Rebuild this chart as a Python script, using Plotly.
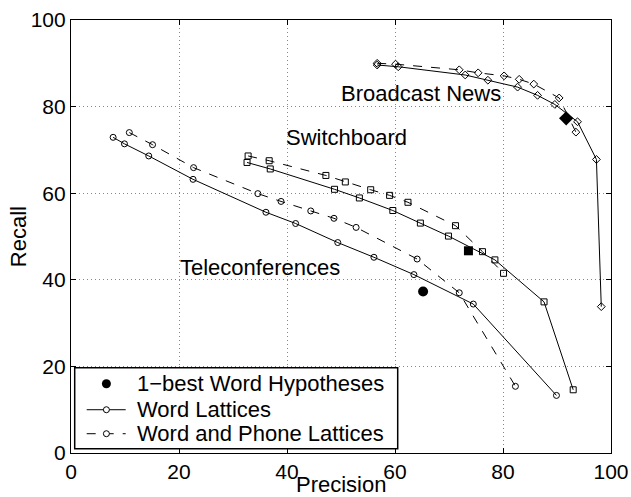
import plotly.graph_objects as go

# Broadcast News
bn_word_p = [56.7, 60.6, 73.0, 77.2, 82.7, 86.4, 89.6, 93.8, 97.3, 98.2]
bn_word_r = [89.6, 89.2, 87.3, 86.1, 84.5, 82.6, 80.5, 76.5, 67.8, 33.8]
bn_wp_p = [56.7, 60.1, 71.9, 75.4, 80.2, 83.0, 85.7, 90.4, 93.5]
bn_wp_r = [90.0, 89.8, 88.5, 87.8, 87.1, 86.3, 85.2, 82.0, 74.1]

# Switchboard
swb_word_p = [32.6, 36.9, 48.8, 53.4, 59.6, 64.7, 69.9, 78.5, 87.6, 93.0]
swb_word_r = [67.1, 65.6, 60.9, 58.9, 56.0, 53.1, 50.1, 44.6, 34.9, 14.6]
swb_wp_p = [32.8, 36.7, 47.2, 50.8, 55.5, 59.0, 62.4, 71.2, 76.2, 80.1]
swb_wp_r = [68.6, 67.5, 64.1, 62.6, 60.8, 59.5, 57.9, 52.5, 46.5, 41.5]

# Teleconferences
tele_word_p = [7.8, 9.9, 14.4, 22.6, 36.1, 41.6, 49.4, 56.1, 63.5, 74.5, 89.9]
tele_word_r = [72.9, 71.4, 68.6, 63.2, 55.6, 53.0, 48.6, 45.2, 41.2, 34.4, 13.3]
tele_wp_p = [10.8, 15.1, 22.7, 34.6, 38.9, 44.4, 48.7, 52.8, 64.1, 71.9, 82.3]
tele_wp_r = [74.0, 71.2, 65.9, 59.9, 58.1, 55.9, 54.2, 52.1, 44.8, 37.0, 15.4]

# 1-best word hypotheses (Teleconferences, Switchboard, Broadcast News)
best_p = [65.2, 73.6, 91.7]
best_r = [37.3, 46.7, 77.3]
best_symbols = ["circle", "square", "diamond"]
best_sizes = [10, 9, 11]

corpus_labels = ["Broadcast News", "Switchboard", "Teleconferences"]
label_p = [64.8, 51.1, 35.0]
label_r = [83.1, 72.9, 42.8]

legend_labels = ["1\u2212best Word Hypotheses", "Word Lattices", "Word and Phone Lattices"]

x_ticks = [0, 20, 40, 60, 80, 100]
y_ticks = [0, 20, 40, 60, 80, 100]

FONT = "Liberation Sans, Arial, Helvetica, sans-serif"

fig = go.Figure()

series = [
    (bn_word_p, bn_word_r, "solid", "diamond-open"),
    (bn_wp_p, bn_wp_r, "dash", "diamond-open"),
    (swb_word_p, swb_word_r, "solid", "square-open"),
    (swb_wp_p, swb_wp_r, "dash", "square-open"),
    (tele_word_p, tele_word_r, "solid", "circle-open"),
    (tele_wp_p, tele_wp_r, "dash", "circle-open"),
]
for px, py, dash, sym in series:
    fig.add_trace(go.Scatter(
        x=px, y=py, mode="lines+markers", showlegend=False,
        line=dict(color="black", width=1, dash=dash),
        marker=dict(symbol=sym, size=6, color="black", line=dict(width=1, color="black")),
        hoverinfo="skip",
    ))

fig.add_trace(go.Scatter(
    x=best_p, y=best_r, mode="markers", showlegend=False,
    marker=dict(symbol=best_symbols, size=best_sizes, color="black", opacity=1,
                line=dict(width=0)),
))

# ---- manual legend (paper coordinates) ----
L, T, W, H = 71.3, 20.0, 540.0, 433.3  # plot area in pixels
def px2x(p):
    return (p - L) / W
def px2y(p):
    return (T + H - p) / H

shapes = []
annotations = []
# legend box
shapes.append(dict(type="rect", xref="paper", yref="paper",
                   x0=px2x(75), x1=px2x(398), y0=px2y(449), y1=px2y(368),
                   line=dict(color="black", width=1.5), fillcolor="white", layer="above"))
row_y = [384, 410, 434]
sym_cx = 106.7
for i, (lab, ry) in enumerate(zip(legend_labels, row_y)):
    yy = px2y(ry)
    if i > 0:
        shapes.append(dict(type="line", xref="paper", yref="paper",
                           x0=px2x(87), x1=px2x(126), y0=yy, y1=yy,
                           line=dict(color="black", width=1,
                                     dash="solid" if i == 1 else "dash"),
                           layer="above"))
        shapes.append(dict(type="circle", xref="paper", yref="paper",
                           xsizemode="pixel", ysizemode="pixel",
                           xanchor=px2x(sym_cx), yanchor=yy,
                           x0=-3, x1=3, y0=-3, y1=3,
                           line=dict(color="black", width=1), fillcolor="white",
                           layer="above"))
    else:
        shapes.append(dict(type="circle", xref="paper", yref="paper",
                           xsizemode="pixel", ysizemode="pixel",
                           xanchor=px2x(sym_cx), yanchor=yy,
                           x0=-4.5, x1=4.5, y0=-4.5, y1=4.5,
                           line=dict(color="black", width=0), fillcolor="black",
                           layer="above"))
    annotations.append(dict(x=px2x(135), y=yy, xref="paper", yref="paper", text=lab,
                            showarrow=False, xanchor="left", yanchor="middle",
                            font=dict(size=22, color="black", family=FONT)))

for t, px, py in zip(corpus_labels, label_p, label_r):
    annotations.append(dict(x=px, y=py, xref="x", yref="y", text=t, showarrow=False,
                            font=dict(size=22, color="black", family=FONT),
                            xanchor="center", yanchor="middle"))
annotations.append(dict(x=0.5, y=px2y(485), xref="paper", yref="paper", text="Precision",
                        showarrow=False, font=dict(size=22, color="black", family=FONT),
                        xanchor="center", yanchor="middle"))
annotations.append(dict(x=px2x(19), y=0.5, xref="paper", yref="paper", text="Recall",
                        showarrow=False, textangle=-90,
                        font=dict(size=22, color="black", family=FONT),
                        xanchor="center", yanchor="middle"))

axis_common = dict(
    showgrid=True, gridcolor="#888888", griddash="1px,3px", gridwidth=1,
    zeroline=False, showline=True, linecolor="black", linewidth=1.2, mirror="ticks",
    ticks="inside", ticklen=5, tickcolor="black", automargin=False,
    tickfont=dict(size=21, color="black", family=FONT),
)

fig.update_layout(
    width=631, height=497,
    margin=dict(l=71, r=20, t=20, b=44, pad=0),
    paper_bgcolor="white", plot_bgcolor="white",
    font=dict(family=FONT, color="black"),
    xaxis=dict(range=[0, 100], tickvals=x_ticks, **axis_common),
    yaxis=dict(range=[0, 100], tickvals=y_ticks, **axis_common),
    showlegend=False,
    shapes=shapes,
    annotations=annotations,
)

fig.write_html("out.html", config={"displayModeBar": False},
               post_script="document.body.style.margin='0';")
